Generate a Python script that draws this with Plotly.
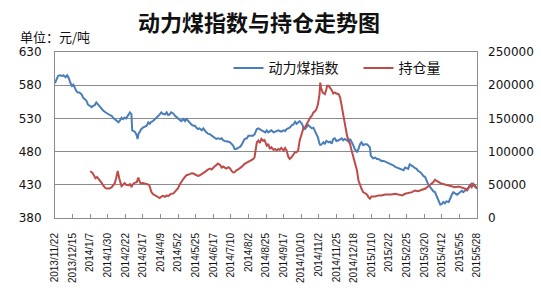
import pandas as pd
import plotly.graph_objects as go

# ---------------- data ----------------
start_date = "2013-11-22"
end_date = "2015-05-28"

tick_labels = ["2013/11/22", "2013/12/15", "2014/1/7", "2014/1/30", "2014/2/22", "2014/3/17",
               "2014/4/9", "2014/5/2", "2014/5/25", "2014/6/17", "2014/7/10", "2014/8/2",
               "2014/8/25", "2014/9/17", "2014/10/10", "2014/11/2", "2014/11/25", "2014/12/18",
               "2015/1/10", "2015/2/2", "2015/2/25", "2015/3/20", "2015/4/12", "2015/5/5",
               "2015/5/28"]
left_ticks = [380, 430, 480, 530, 580, 630]
right_ticks = [0, 50000, 100000, 150000, 200000, 250000]

# days after 2013/11/22
index_day = [0, 4, 6, 10, 11, 14, 16, 18, 20, 22, 24, 26, 28, 30, 32, 35, 37, 39, 41, 43, 45, 48, 50, 52,
             54, 56, 59, 61, 63, 65, 67, 69, 72, 74, 76, 78, 80, 83, 85, 87, 89, 91, 93, 96, 98, 100,
             101, 103, 105, 107, 108, 109, 111, 113, 115, 117, 120, 122, 124, 126, 128, 131, 133, 135,
             137, 139, 141, 144, 146, 148, 150, 152, 155, 157, 159, 161, 163, 165, 168, 170, 172, 174,
             176, 179, 181, 183, 185, 187, 189, 192, 194, 196, 198, 200, 203, 205, 207, 209, 211, 213,
             216, 218, 220, 222, 224, 227, 229, 231, 233, 235, 237, 240, 242, 244, 246, 248, 251, 253,
             255, 257, 259, 261, 264, 266, 268, 270, 272, 275, 277, 279, 281, 283, 286, 288, 290, 292,
             294, 296, 299, 301, 303, 305, 307, 310, 312, 314, 316, 318, 320, 323, 325, 327, 329, 331,
             334, 336, 338, 340, 342, 344, 346, 347, 349, 351, 353, 355, 358, 360, 362, 364, 366, 368,
             371, 373, 375, 377, 379, 382, 384, 386, 388, 390, 392, 395, 397, 399, 401, 403, 406, 408,
             410, 412, 413, 414, 416, 419, 421, 423, 425, 427, 430, 432, 434, 436, 438, 440, 443, 445,
             447, 449, 451, 454, 456, 458, 460, 462, 464, 467, 469, 471, 473, 475, 478, 480, 482, 484,
             486, 488, 491, 493, 495, 497, 499, 502, 504, 506, 508, 510, 512, 515, 517, 519, 521, 523,
             526, 528, 530, 532, 534, 537, 539, 541, 543, 545, 547, 550, 552]
index_val = [583, 594, 595, 594, 595, 592, 595, 591, 584, 579, 581, 576, 571, 569, 569, 566, 561, 559,
             557, 551, 549, 547, 549, 550, 554, 551, 547, 544, 542, 540, 539, 537, 535, 534, 531, 529,
             527, 524, 527, 531, 529, 531, 530, 536, 539, 536, 512, 511, 509, 504, 499, 506, 511, 514,
             516, 517, 519, 524, 522, 525, 526, 529, 531, 534, 536, 539, 537, 536, 539, 535, 536, 539,
             537, 534, 532, 531, 529, 526, 529, 526, 529, 526, 524, 520, 519, 519, 516, 514, 515, 512,
             515, 511, 509, 507, 506, 504, 502, 501, 499, 500, 499, 500, 497, 496, 496, 495, 494, 491,
             489, 484, 484, 486, 487, 490, 494, 499, 500, 504, 504, 504, 504, 506, 514, 515, 514, 512,
             511, 509, 512, 509, 511, 512, 509, 510, 511, 512, 511, 510, 512, 511, 514, 515, 516, 520,
             521, 525, 522, 524, 526, 522, 516, 514, 517, 520, 517, 515, 516, 511, 506, 501, 492, 490,
             491, 494, 492, 496, 494, 495, 492, 499, 500, 496, 497, 499, 500, 497, 499, 497, 495, 499,
             495, 490, 484, 479, 484, 491, 494, 490, 491, 491, 489, 486, 474, 472, 470, 471, 469, 469,
             467, 466, 466, 465, 464, 462, 461, 460, 459, 457, 456, 455, 454, 452, 452, 456, 455, 454,
             461, 459, 457, 455, 454, 451, 449, 446, 443, 442, 435, 431, 426, 422, 420, 419, 414, 404,
             400, 401, 404, 402, 405, 404, 411, 415, 419, 417, 415, 417, 419, 421, 419, 422, 424, 426,
             430, 432, 430, 426, 424]

oi_day = [46, 49, 51, 53, 55, 57, 59, 61, 63, 66, 68, 71, 74, 76, 78, 80, 82, 84, 86, 87, 89, 91, 93,
          96, 98, 100, 102, 104, 107, 109, 110, 112, 115, 118, 121, 123, 124, 126, 128, 130, 132, 135,
          137, 139, 141, 144, 146, 148, 150, 152, 155, 157, 159, 161, 163, 165, 168, 170, 172, 174,
          176, 179, 181, 183, 185, 187, 189, 192, 194, 196, 198, 200, 203, 205, 207, 209, 211, 213,
          216, 218, 220, 222, 224, 227, 229, 231, 233, 235, 237, 240, 242, 244, 246, 248, 251, 253,
          255, 257, 259, 261, 262, 264, 266, 268, 270, 272, 274, 275, 277, 279, 281, 283, 286, 288,
          290, 292, 294, 296, 299, 301, 303, 305, 307, 310, 312, 314, 316, 318, 320, 323, 325, 327,
          329, 331, 334, 336, 338, 340, 342, 344, 346, 347, 348, 350, 352, 353, 355, 356, 358, 360,
          362, 364, 366, 368, 371, 373, 375, 377, 379, 382, 384, 386, 388, 390, 392, 395, 397, 399,
          401, 403, 406, 408, 410, 412, 414, 419, 423, 427, 432, 436, 440, 445, 449, 454, 458, 462,
          467, 471, 475, 480, 484, 488, 493, 495, 497, 499, 502, 504, 506, 510, 515, 519, 523, 528,
          532, 537, 539, 541, 543, 545, 547, 550, 552]
oi_val = [70500, 68000, 64000, 60000, 62000, 59000, 57000, 53000, 49000, 45000, 44500, 44500, 46000,
          49000, 52000, 60000, 71000, 60000, 52000, 48000, 50000, 52500, 50000, 49500, 51000, 46500,
          51000, 53000, 54000, 61000, 57000, 52000, 52500, 51500, 51000, 50000, 47000, 39500, 36000,
          34500, 33000, 30500, 30000, 32000, 33500, 32000, 34000, 33000, 35000, 36500, 37000, 40000,
          42000, 45000, 50000, 54500, 59000, 62000, 64500, 65000, 66000, 67500, 67000, 65500, 64500,
          63500, 64000, 66000, 67500, 69000, 71000, 73000, 74500, 73000, 76000, 78000, 79500, 82000,
          80000, 76000, 77500, 76500, 74500, 76500, 74500, 71000, 68500, 69000, 71500, 73500, 76000,
          77000, 79000, 81500, 83500, 85000, 86500, 87500, 88500, 91500, 101500, 114000, 116500,
          113000, 119000, 116500, 117500, 113500, 109000, 111500, 104000, 106500, 102500, 104000,
          101500, 104000, 102500, 105500, 101500, 105500, 101500, 92500, 89000, 92500, 96500, 99000,
          99000, 101500, 116500, 126500, 135500, 136500, 140500, 146500, 151500, 154000, 159000,
          160500, 164000, 171500, 186500, 204000, 196500, 189000, 187500, 186500, 194000, 199000,
          199000, 196500, 192500, 187500, 189000, 187500, 186500, 181500, 169000, 151500, 139000,
          124000, 116500, 111500, 101500, 91500, 86500, 71500, 56500, 49000, 44000, 39000, 36500,
          35500, 31500, 29000, 32500, 32500, 34000, 34000, 35500, 35000, 35500, 36500, 35500, 34000,
          36500, 37500, 39000, 41500, 40500, 42500, 44000, 47500, 51500, 54000, 57500, 56500, 54000,
          52500, 51500, 50500, 49000, 47500, 46500, 47500, 45500, 44000, 41500, 45500, 49000, 46500,
          51500, 47500, 45500]

assert len(index_day) == len(index_val)
assert len(oi_day) == len(oi_val)

t0 = pd.Timestamp(start_date)
index_dates = t0 + pd.to_timedelta(index_day, unit="D")
oi_dates = t0 + pd.to_timedelta(oi_day, unit="D")
tick_dates = pd.to_datetime(tick_labels, format="%Y/%m/%d")

# ---------------- figure ----------------
BLUE = "#4A7EBB"
RED = "#BE4B48"
GRID = "#8C8C8C"
CJK = "Noto Sans CJK SC"

fig = go.Figure()
fig.add_trace(go.Scatter(x=index_dates, y=index_val, name="动力煤指数", mode="lines",
                         line=dict(color=BLUE, width=2), yaxis="y"))
fig.add_trace(go.Scatter(x=oi_dates, y=oi_val, name="持仓量", mode="lines",
                         line=dict(color=RED, width=2), yaxis="y2"))

W, H = 541, 294
ml, mr, mt, mb = 55, 64, 52, 76
pw, ph = W - ml - mr, H - mt - mb

fig.update_layout(
    width=W, height=H,
    margin=dict(l=ml, r=mr, t=mt, b=mb, autoexpand=False),
    paper_bgcolor="white", plot_bgcolor="white",
    title=dict(text="动力煤指数与持仓走势图", x=259 / W, y=1 - 23 / H,
               xanchor="center", yanchor="middle",
               font=dict(family=CJK, size=22, color="#111111", weight="bold")),
    xaxis=dict(type="date", range=[t0, pd.Timestamp(end_date)],
               tickmode="array", tickvals=tick_dates, ticktext=tick_labels,
               tickangle=-90, ticks="inside", ticklen=4, tickcolor=GRID,
               ticklabelstandoff=10,
               showgrid=False, showline=True, linecolor=GRID, linewidth=1, mirror=True,
               tickfont=dict(family="Liberation Sans, Arial", size=10, color="#111111")),
    yaxis=dict(range=[380, 630], tickmode="array", tickvals=left_ticks,
               showgrid=True, gridcolor=GRID, gridwidth=1, zeroline=False,
               showline=True, linecolor=GRID, linewidth=1, mirror=True, ticks="",
               ticklabelstandoff=10,
               tickfont=dict(family="DejaVu Sans", size=12, color="#111111")),
    yaxis2=dict(range=[0, 250000], overlaying="y", side="right", tickmode="array",
                tickvals=right_ticks, ticktext=[str(v) for v in right_ticks],
                showgrid=False, zeroline=False, ticks="",
                ticklabelstandoff=10,
                tickfont=dict(family="DejaVu Sans", size=12, color="#111111")),
    legend=dict(orientation="h", x=(228.5 - ml) / pw, y=(H - mb - 68.3) / ph,
                xanchor="left", yanchor="middle", bgcolor="rgba(0,0,0,0)",
                borderwidth=0, entrywidthmode="pixels", entrywidth=85,
                font=dict(family=CJK, size=14, color="#111111")),
    showlegend=True,
)

fig.add_annotation(text="单位：元/吨", xref="paper", yref="paper",
                   x=(18 - ml) / pw, y=(H - mb - 36.5) / ph, xanchor="left", yanchor="middle",
                   showarrow=False, font=dict(family=CJK, size=13, color="#111111"))

fig.write_html("out.html")
